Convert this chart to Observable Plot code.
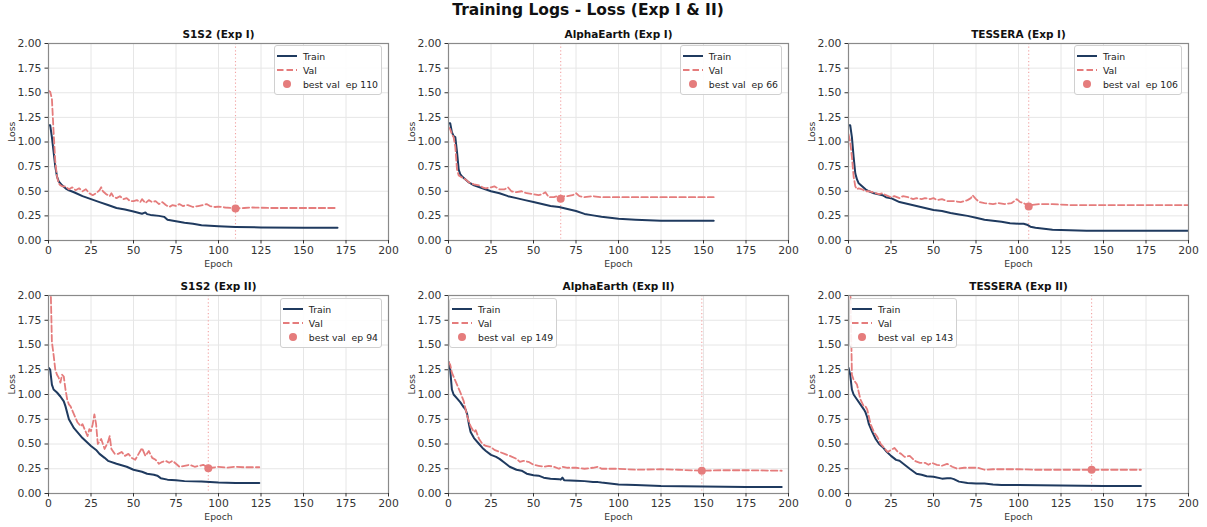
<!DOCTYPE html>
<html><head><meta charset="utf-8">
<script src="https://cdn.jsdelivr.net/npm/d3@7"></script>
<script src="https://cdn.jsdelivr.net/npm/@observablehq/plot@0.6"></script>
<style>
body{margin:0;background:#fff;font-family:"DejaVu Sans",sans-serif;}
#root{position:relative;width:1207px;height:527px;overflow:hidden;background:#fff;}
#title{position:absolute;top:1px;left:0;width:1176px;text-align:center;font-weight:bold;font-size:15.5px;color:#111;}
.panel{position:absolute;width:400px;height:250px;}
.legend{position:absolute;background:rgba(255,255,255,0.9);border:1px solid #d0d0d0;border-radius:3px;padding:3px 3px 3px 2px;font-size:9.3px;color:#222;}
.legend .row{display:flex;align-items:center;height:14px;white-space:pre;}
.legend svg{margin-right:6px;}
</style>
</head><body>
<div id="root"><div id="title">Training Logs - Loss (Exp I &amp; II)</div></div>
<script>
// ---- Data (epoch, loss) ----
const panelTitles = ["S1S2 (Exp I)", "AlphaEarth (Exp I)", "TESSERA (Exp I)", "S1S2 (Exp II)", "AlphaEarth (Exp II)", "TESSERA (Exp II)"];
const bestEpochs = [110, 66, 106, 94, 149, 143];
const bestValues = [0.325, 0.425, 0.345, 0.255, 0.23, 0.24];
const legendSides = ["right", "right", "right", "right", "left", "left"];
const xTicks = [0, 25, 50, 75, 100, 125, 150, 175, 200];
const yTicks = [0, 0.25, 0.5, 0.75, 1.0, 1.25, 1.5, 1.75, 2.0];

const s1s2I_train = [[0,1.17],[1,1.17],[2,1.05],[3,0.9],[4,0.75],[5,0.65],[6,0.6],[8,0.56],[10,0.53],[12,0.51],[15,0.49],[20,0.45],[25,0.42],[30,0.39],[35,0.36],[40,0.33],[45,0.315],[50,0.295],[55,0.272],[57,0.285],[58,0.268],[60,0.26],[65,0.25],[68,0.24],[70,0.21],[75,0.195],[80,0.18],[85,0.17],[90,0.155],[100,0.145],[110,0.138],[125,0.133],[150,0.13],[170,0.13]];
const s1s2I_val = [[0,1.52],[1,1.51],[2,1.44],[3,1.1],[4,0.8],[5,0.65],[6,0.58],[7,0.56],[8,0.55],[10,0.55],[12,0.52],[14,0.54],[16,0.51],[18,0.53],[20,0.5],[22,0.52],[24,0.48],[26,0.46],[28,0.48],[30,0.51],[31,0.54],[32,0.5],[34,0.47],[36,0.45],[37,0.48],[38,0.45],[40,0.43],[42,0.45],[44,0.42],[46,0.43],[48,0.4],[50,0.4],[52,0.41],[54,0.39],[55,0.42],[57,0.38],[59,0.41],[61,0.39],[63,0.4],[65,0.37],[67,0.39],[69,0.36],[71,0.34],[73,0.36],[75,0.35],[77,0.37],[79,0.35],[82,0.36],[85,0.34],[88,0.35],[91,0.36],[93,0.37],[95,0.35],[98,0.34],[100,0.345],[104,0.335],[108,0.33],[110,0.325],[115,0.33],[120,0.335],[130,0.33],[140,0.33],[150,0.33],[160,0.33],[170,0.33]];

const alphaI_train = [[0,1.19],[1,1.19],[2,1.1],[3,1.06],[4,1.05],[5,0.9],[6,0.72],[7,0.67],[8,0.65],[10,0.62],[12,0.59],[15,0.56],[20,0.53],[25,0.5],[30,0.48],[35,0.45],[40,0.43],[45,0.41],[50,0.39],[55,0.37],[60,0.35],[65,0.34],[70,0.32],[75,0.3],[80,0.27],[85,0.255],[90,0.24],[95,0.23],[100,0.22],[110,0.21],[125,0.2],[140,0.2],[156,0.2]];
const alphaI_val = [[0,1.15],[1,1.13],[2,1.08],[3,1.05],[4,0.95],[5,0.72],[6,0.66],[8,0.64],[10,0.62],[12,0.59],[15,0.57],[18,0.56],[20,0.54],[22,0.53],[25,0.54],[27,0.55],[30,0.52],[33,0.52],[35,0.54],[37,0.5],[40,0.49],[43,0.5],[46,0.48],[50,0.47],[53,0.46],[55,0.47],[57,0.49],[59,0.44],[62,0.44],[64,0.45],[66,0.425],[68,0.45],[70,0.45],[73,0.46],[75,0.48],[77,0.45],[80,0.44],[85,0.45],[90,0.44],[100,0.44],[120,0.44],[140,0.44],[156,0.44]];

const tesseraI_train = [[0,1.17],[1,1.17],[2,1.05],[3,0.85],[4,0.68],[5,0.62],[6,0.58],[8,0.55],[10,0.52],[12,0.5],[15,0.48],[20,0.46],[22,0.44],[25,0.43],[30,0.39],[35,0.37],[40,0.35],[45,0.33],[50,0.31],[55,0.3],[60,0.28],[65,0.265],[70,0.25],[75,0.23],[80,0.21],[85,0.2],[90,0.19],[95,0.175],[100,0.17],[103,0.17],[105,0.16],[107,0.14],[110,0.13],[115,0.12],[120,0.11],[130,0.105],[140,0.1],[150,0.1],[175,0.1],[200,0.1]];
const tesseraI_val = [[0,1.08],[1,1.0],[2,0.85],[3,0.65],[4,0.55],[5,0.52],[6,0.53],[8,0.52],[10,0.5],[12,0.5],[14,0.49],[16,0.48],[18,0.47],[20,0.48],[22,0.46],[25,0.44],[27,0.45],[30,0.43],[32,0.45],[35,0.44],[38,0.42],[40,0.43],[43,0.42],[45,0.43],[48,0.42],[50,0.43],[52,0.41],[55,0.42],[58,0.4],[62,0.4],[66,0.39],[70,0.41],[72,0.43],[73,0.46],[75,0.42],[77,0.39],[80,0.38],[85,0.37],[88,0.38],[92,0.37],[96,0.38],[99,0.42],[101,0.39],[103,0.38],[105,0.36],[106,0.345],[108,0.36],[112,0.37],[120,0.37],[130,0.36],[150,0.36],[175,0.36],[200,0.36]];

const s1s2II_train = [[0,1.27],[1,1.25],[2,1.1],[3,1.05],[5,1.02],[7,0.98],[9,0.93],[10,0.88],[12,0.75],[15,0.66],[18,0.6],[20,0.56],[25,0.48],[28,0.44],[30,0.4],[33,0.36],[35,0.33],[40,0.3],[44,0.28],[46,0.27],[50,0.24],[55,0.22],[58,0.2],[62,0.19],[64,0.18],[66,0.155],[70,0.14],[75,0.135],[80,0.125],[90,0.12],[100,0.11],[110,0.105],[124,0.105]];
const s1s2II_val = [[0,4.0],[1,2.3],[2,1.53],[3,1.4],[4,1.25],[5,1.2],[6,1.17],[7,1.12],[8,1.2],[9,1.18],[10,1.05],[11,0.95],[12,0.9],[13,0.88],[15,0.8],[17,0.72],[19,0.68],[20,0.7],[22,0.62],[23,0.58],[24,0.65],[25,0.63],[26,0.7],[27,0.8],[28,0.7],[29,0.5],[31,0.55],[33,0.45],[35,0.52],[36,0.58],[37,0.45],[39,0.4],[41,0.4],[43,0.42],[45,0.38],[47,0.4],[49,0.36],[51,0.34],[53,0.4],[55,0.46],[57,0.38],[59,0.43],[61,0.36],[63,0.34],[65,0.3],[67,0.32],[69,0.33],[71,0.31],[73,0.33],[75,0.3],[77,0.27],[80,0.28],[83,0.29],[86,0.27],[89,0.28],[91,0.29],[93,0.27],[94,0.255],[96,0.26],[100,0.27],[105,0.26],[110,0.27],[115,0.265],[124,0.265]];

const alphaII_train = [[0,1.33],[1,1.25],[2,1.05],[3,1.0],[5,0.96],[7,0.92],[9,0.87],[10,0.85],[11,0.8],[12,0.7],[13,0.62],[15,0.56],[18,0.5],[20,0.46],[22,0.43],[25,0.39],[28,0.37],[30,0.35],[33,0.31],[36,0.27],[40,0.24],[43,0.23],[46,0.2],[50,0.185],[53,0.18],[56,0.16],[60,0.15],[65,0.145],[66,0.14],[67,0.16],[68,0.135],[75,0.13],[80,0.125],[85,0.115],[88,0.115],[90,0.11],[95,0.1],[100,0.09],[110,0.085],[125,0.075],[150,0.07],[175,0.065],[196,0.065]];
const alphaII_val = [[0,1.33],[1,1.3],[2,1.22],[3,1.18],[5,1.1],[7,1.02],[9,0.93],[11,0.78],[13,0.68],[15,0.62],[16,0.64],[18,0.55],[20,0.5],[22,0.48],[25,0.47],[27,0.44],[30,0.42],[33,0.4],[36,0.38],[40,0.35],[42,0.32],[44,0.33],[47,0.32],[50,0.29],[53,0.28],[56,0.27],[59,0.28],[62,0.27],[65,0.25],[67,0.27],[70,0.26],[75,0.26],[80,0.25],[85,0.26],[88,0.27],[90,0.25],[95,0.25],[100,0.25],[110,0.24],[125,0.245],[135,0.24],[149,0.23],[160,0.235],[175,0.235],[196,0.23]];

const tesseraII_train = [[0,1.27],[1,1.2],[2,1.05],[3,1.0],[5,0.95],[7,0.9],[9,0.85],[10,0.82],[11,0.77],[12,0.7],[14,0.62],[16,0.55],[18,0.5],[20,0.47],[22,0.43],[25,0.38],[28,0.34],[30,0.33],[33,0.29],[36,0.25],[40,0.2],[43,0.19],[46,0.175],[50,0.17],[55,0.15],[58,0.155],[60,0.155],[62,0.145],[65,0.12],[70,0.105],[75,0.1],[80,0.1],[85,0.09],[90,0.085],[100,0.085],[125,0.08],[150,0.075],[172,0.075]];
const tesseraII_val = [[0,4.0],[1,2.2],[2,1.2],[3,1.15],[5,1.1],[7,0.95],[9,0.88],[10,0.88],[11,0.85],[13,0.7],[15,0.62],[17,0.57],[19,0.5],[21,0.46],[23,0.42],[25,0.44],[27,0.46],[29,0.42],[31,0.4],[33,0.37],[36,0.38],[39,0.33],[42,0.31],[45,0.31],[47,0.29],[49,0.31],[52,0.29],[55,0.28],[58,0.3],[61,0.27],[64,0.25],[68,0.26],[72,0.26],[76,0.26],[80,0.24],[85,0.245],[90,0.245],[100,0.245],[110,0.24],[125,0.24],[143,0.24],[155,0.24],[172,0.24]];

const trainSeries = [s1s2I_train, alphaI_train, tesseraI_train, s1s2II_train, alphaII_train, tesseraII_train];
const valSeries = [s1s2I_val, alphaI_val, tesseraI_val, s1s2II_val, alphaII_val, tesseraII_val];

// ---- Styles ----
const TRAIN = "#1f3a5f";
const VAL = "#e57c7c";
const VLINE = "#f2a3a3";
const GRID = "#e6e6e6";
const SPINE = "#8a8a8a";

const root = document.getElementById("root");
const rowTops = [25, 277];

panelTitles.forEach((title, i) => {
  const col = i % 3, row = Math.floor(i / 3);
  const div = document.createElement("div");
  div.className = "panel";
  div.style.left = (col * 400) + "px";
  div.style.top = rowTops[row] + "px";
  const chart = Plot.plot({
    width: 400, height: 250,
    marginLeft: 48, marginRight: 12, marginTop: 18, marginBottom: row === 0 ? 35 : 34,
    style: {fontFamily: "DejaVu Sans, sans-serif", fontSize: "9px", color: "#333", background: "transparent", overflow: "visible"},
    x: {domain: [0, 200]},
    y: {domain: [0, 2]},
    marks: [
      Plot.gridX(xTicks, {stroke: GRID, strokeOpacity: 1}),
      Plot.gridY(yTicks, {stroke: GRID, strokeOpacity: 1}),
      Plot.ruleX([bestEpochs[i]], {stroke: VLINE, strokeWidth: 1.1, strokeDasharray: "1.2,2.4"}),
      Plot.line(trainSeries[i], {x: d => d[0], y: d => d[1], stroke: TRAIN, strokeWidth: 2, clip: true}),
      Plot.line(valSeries[i], {x: d => d[0], y: d => d[1], stroke: VAL, strokeWidth: 1.8, strokeDasharray: "6.5,3", clip: true}),
      Plot.dot([[bestEpochs[i], bestValues[i]]], {x: d => d[0], y: d => d[1], r: 4, fill: VAL, stroke: "none"}),
      Plot.frame({stroke: SPINE, strokeWidth: 1.2}),
      Plot.axisX({ticks: xTicks, tickSize: 3.5, tickPadding: 2.5, label: null, tickFormat: d3.format("d"), stroke: "#333", fontSize: 10.8}),
      Plot.axisY({ticks: yTicks, tickSize: 3.5, tickPadding: 3.5, label: null, tickFormat: d3.format(".2f"), stroke: "#333", fontSize: 10.8}),
      Plot.text([title], {frameAnchor: "top", dy: -9, lineAnchor: "middle", fontWeight: "bold", fontSize: 10.5, fill: "#111"}),
      Plot.text(["Epoch"], {frameAnchor: "bottom", dy: 24, lineAnchor: "middle", fontSize: 9.3, fill: "#333"}),
      Plot.text(["Loss"], {frameAnchor: "left", dx: -36, rotate: -90, lineAnchor: "middle", fontSize: 9.3, fill: "#333"})
    ]
  });
  div.appendChild(chart);

  // legend
  const lg = document.createElement("div");
  lg.className = "legend";
  lg.style.top = (row === 0 ? 20 : 21) + "px";
  if (legendSides[i] === "right") lg.style.right = "18px"; else lg.style.left = "49px";
  const items = [
    {label: "Train", sw: `<line x1="0" y1="5" x2="20" y2="5" stroke="${TRAIN}" stroke-width="2"/>`},
    {label: "Val", sw: `<line x1="0" y1="5" x2="20" y2="5" stroke="${VAL}" stroke-width="1.8" stroke-dasharray="6.5,3"/>`},
    {label: `best val  ep ${bestEpochs[i]}`, sw: `<circle cx="10" cy="5" r="4" fill="${VAL}"/>`}
  ];
  lg.innerHTML = items.map(it => `<div class="row"><svg width="20" height="10">${it.sw}</svg><span>${it.label}</span></div>`).join("");
  div.appendChild(lg);
  root.appendChild(div);
});
</script>
</body></html>
